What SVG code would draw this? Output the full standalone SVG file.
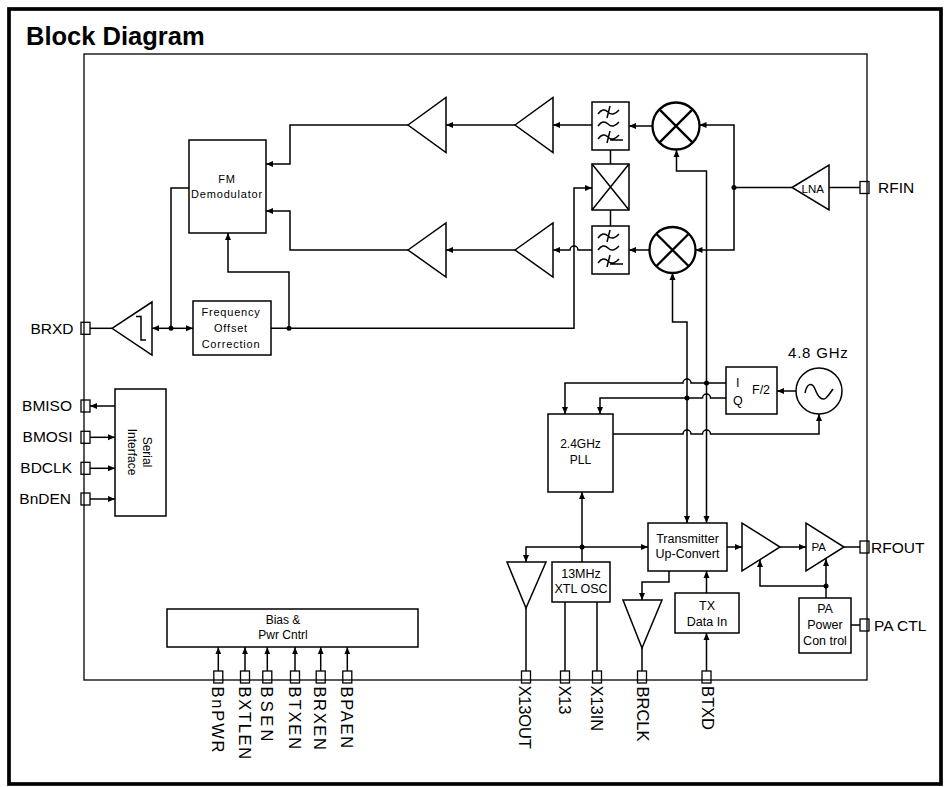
<svg xmlns="http://www.w3.org/2000/svg" width="948" height="787" viewBox="0 0 948 787">
<defs>
<style>
.ln{fill:none;stroke:#000;stroke-width:1.5}
.bx{fill:#fff;stroke:#000;stroke-width:1.5}
.tk{fill:#fff;stroke:#000;stroke-width:2.3}
.pin{fill:none;stroke:#000;stroke-width:1.3}
.dot{fill:#000}
text{font-family:"Liberation Sans",Arial,Helvetica,sans-serif;fill:#000}
.s11{font-size:11px;letter-spacing:0.8px}
.s12{font-size:12.5px}
.lab{font-size:15.5px}
.vl{font-size:16.5px}
</style>
<marker id="ar" markerWidth="7" markerHeight="7" refX="7" refY="3.5" orient="auto-start-reverse" markerUnits="userSpaceOnUse"><path d="M0,0.5 L7,3.5 L0,6.5 z" fill="#000"/></marker>
<g id="filt">
<rect x="0" y="0" width="37" height="48" class="bx"/>
<path class="ln" d="M6,12 Q11,5 16,10 T27,8 M15,16 L18,4"/>
<path class="ln" d="M6,24 Q11,17 16,22 T27,20"/>
<path class="ln" d="M6,37 Q11,30 16,35 T27,33 M15,41 L18,29 M18,38 L31,38"/>
</g>
</defs>
<rect x="0" y="0" width="948" height="787" fill="#fff"/>
<rect x="9" y="9" width="932" height="775" fill="none" stroke="#000" stroke-width="3.7"/>
<text x="26" y="45" style="font-size:25.5px;font-weight:bold">Block Diagram</text>
<rect x="84" y="54" width="783" height="626" fill="none" stroke="#000" stroke-width="1.3"/>

<g id="connectors">
<!-- upper IF chain -->
<path class="ln" d="M592,125 L553,125" marker-end="url(#ar)"/>
<path class="ln" d="M515,125 L446,125" marker-end="url(#ar)"/>
<path class="ln" d="M408,125 L290,125 L290,164 L266,164" marker-end="url(#ar)"/>
<!-- lower IF chain -->
<path class="ln" d="M592,250 L578,250 A4,4 0 0 0 570,250 L553,250" marker-end="url(#ar)"/>
<path class="ln" d="M515,250 L446,250" marker-end="url(#ar)"/>
<path class="ln" d="M408,250 L290,250 L290,211 L266,211" marker-end="url(#ar)"/>
<!-- mixers to filters -->
<path class="ln" d="M652.5,126 L629,126" marker-end="url(#ar)"/>
<path class="ln" d="M649.5,250 L629,250" marker-end="url(#ar)"/>
<!-- filters to X box -->
<path class="ln" d="M610.5,150 L610.5,164 M610.5,210 L610.5,227"/>
<!-- LNA to mixers -->
<path class="ln" d="M860,187.5 L829,187.5"/>
<path class="ln" d="M792,187.5 L734,187.5"/>
<path class="ln" d="M734,187.5 L734,125 L699.5,125" marker-end="url(#ar)"/>
<path class="ln" d="M734,187.5 L734,250 L695.5,250" marker-end="url(#ar)"/>
<circle class="dot" cx="734" cy="187.5" r="2.5"/>
<!-- LO lines -->
<path class="ln" d="M676.5,150 L676.5,171 L706.5,171 L706.5,523" marker-start="url(#ar)" marker-end="url(#ar)"/>
<path class="ln" d="M672.5,273 L672.5,322 L687,322 L687,523" marker-start="url(#ar)" marker-end="url(#ar)"/>
<!-- I / Q from F/2 -->
<path class="ln" d="M726,383 L691,383 A4,4 0 0 0 683,383 L565,383 L565,414" marker-end="url(#ar)"/>
<path class="ln" d="M726,398 L710.5,398 A4,4 0 0 0 702.5,398 L600,398 L600,414" marker-end="url(#ar)"/>
<circle class="dot" cx="706.5" cy="383" r="2.5"/>
<circle class="dot" cx="687" cy="398" r="2.5"/>
<!-- PLL to VCO -->
<path class="ln" d="M613,434 L683,434 A4,4 0 0 1 691,434 L702.5,434 A4,4 0 0 1 710.5,434 L819,434 L819,414" marker-end="url(#ar)"/>
<path class="ln" d="M796,391 L777,391" marker-end="url(#ar)"/>
<!-- FM demod / BRXD -->
<path class="ln" d="M189,188 L171,188 L171,328.3"/>
<path class="ln" d="M171,328.3 L152,328.3" marker-end="url(#ar)"/>
<path class="ln" d="M171,328.3 L193,328.3" marker-end="url(#ar)"/>
<path class="ln" d="M112,328.3 L90,328.3"/>
<circle class="dot" cx="171" cy="328.3" r="2.5"/>
<path class="ln" d="M271,328.3 L574,328.3 L574,188 L592,188" marker-end="url(#ar)"/>
<path class="ln" d="M289,328.3 L289,272 L228,272 L228,233" marker-end="url(#ar)"/>
<circle class="dot" cx="289" cy="328.3" r="2.5"/>
<!-- serial -->
<path class="ln" d="M115,406 L90,406" marker-end="url(#ar)"/>
<path class="ln" d="M90,437.3 L115,437.3" marker-end="url(#ar)"/>
<path class="ln" d="M90,468.3 L115,468.3" marker-end="url(#ar)"/>
<path class="ln" d="M90,499 L115,499" marker-end="url(#ar)"/>
<!-- XTL / PLL -->
<path class="ln" d="M582,562 L582,492" marker-end="url(#ar)"/>
<path class="ln" d="M582,547 L526,547 L526,562" marker-end="url(#ar)"/>
<path class="ln" d="M582,547 L648,547" marker-end="url(#ar)"/>
<circle class="dot" cx="582" cy="547" r="2.5"/>
<path class="ln" d="M526,608 L526,671"/>
<path class="ln" d="M565,602 L565,671 M597,602 L597,671"/>
<!-- transmitter -->
<path class="ln" d="M669,571 L669,582 L642,582 L642,600" marker-end="url(#ar)"/>
<path class="ln" d="M642,648 L642,671"/>
<path class="ln" d="M706.5,593 L706.5,571" marker-end="url(#ar)"/>
<path class="ln" d="M706.5,671 L706.5,633" marker-end="url(#ar)"/>
<path class="ln" d="M727,547 L742,547" marker-end="url(#ar)"/>
<path class="ln" d="M780,547 L806,547" marker-end="url(#ar)"/>
<path class="ln" d="M844,547 L860,547"/>
<path class="ln" d="M826,598 L826,559" marker-end="url(#ar)"/>
<path class="ln" d="M826,586 L760,586 L760,560" marker-end="url(#ar)"/>
<circle class="dot" cx="826" cy="586" r="2.5"/>
<path class="ln" d="M851,625 L860,625"/>
<!-- bias pins -->
<path class="ln" d="M218.3,671 L218.3,647.3" marker-end="url(#ar)"/>
<path class="ln" d="M245,671 L245,647.3" marker-end="url(#ar)"/>
<path class="ln" d="M267.3,671 L267.3,647.3" marker-end="url(#ar)"/>
<path class="ln" d="M295,671 L295,647.3" marker-end="url(#ar)"/>
<path class="ln" d="M320.7,671 L320.7,647.3" marker-end="url(#ar)"/>
<path class="ln" d="M347.3,671 L347.3,647.3" marker-end="url(#ar)"/>
</g>

<g id="fm-demod">
<rect class="bx" x="189" y="140" width="77" height="93"/>
<text class="s11" x="227" y="183" text-anchor="middle">FM</text>
<text class="s11" x="227" y="198" text-anchor="middle">Demodulator</text>
</g>
<g id="upper-amp1"><polygon class="ln" points="408,125 446,97.5 446,152.5"/></g>
<g id="upper-amp2"><polygon class="ln" points="515,125 553,97.5 553,152.5"/></g>
<g id="lower-amp1"><polygon class="ln" points="408,250 446,223 446,277"/></g>
<g id="lower-amp2"><polygon class="ln" points="515,250 553,223 553,277"/></g>
<g id="upper-filter"><use href="#filt" x="592" y="102"/></g>
<g id="lower-filter"><use href="#filt" x="592" y="226"/></g>
<g id="quad-box">
<rect class="bx" x="592" y="164" width="37" height="46"/>
<path class="ln" d="M592,164 L629,210 M629,164 L592,210"/>
</g>
<g id="upper-mixer">
<circle class="tk" cx="676" cy="126" r="23.5"/>
<path class="tk" d="M659.4,109.4 L692.6,142.6 M692.6,109.4 L659.4,142.6"/>
</g>
<g id="lower-mixer">
<circle class="tk" cx="672.5" cy="250" r="23"/>
<path class="tk" d="M656.2,233.7 L688.8,266.3 M688.8,233.7 L656.2,266.3"/>
</g>
<g id="lna">
<polygon class="ln" points="792,187.5 829,165 829,210"/>
<text x="801.5" y="192.5" style="font-size:11.5px">LNA</text>
</g>
<g id="rx-buffer">
<polygon class="ln" points="112,328.3 152,302 152,355"/>
<path class="ln" d="M136,316.5 L141,316.5 L141,340 L146,340"/>
</g>
<g id="freq-offset">
<rect class="bx" x="193" y="301" width="78" height="54"/>
<text class="s11" x="231" y="315.7" text-anchor="middle">Frequency</text>
<text class="s11" x="231" y="331.7" text-anchor="middle">Offset</text>
<text class="s11" x="231" y="347.7" text-anchor="middle">Correction</text>
</g>
<g id="serial">
<rect class="bx" x="115" y="389" width="51" height="127"/>
<text transform="translate(140,452) rotate(90)" style="font-size:12px" text-anchor="middle"><tspan x="0" y="-2.5">Serial</tspan><tspan x="0" y="11.7">Interface</tspan></text>
</g>
<g id="pll">
<rect class="bx" x="548" y="414" width="65" height="78"/>
<text x="580.5" y="448" style="font-size:12px" text-anchor="middle">2.4GHz</text>
<text x="580.5" y="464" style="font-size:12px" text-anchor="middle">PLL</text>
</g>
<g id="f2">
<rect class="bx" x="726" y="367" width="51" height="47"/>
<text class="s12" x="736" y="387">I</text>
<text class="s12" x="733" y="405">Q</text>
<text class="s12" x="752" y="394">F/2</text>
</g>
<g id="vco">
<circle class="ln" cx="819" cy="391" r="23"/>
<path class="ln" d="M805,393 C807,383 812,382 815,389 C818,397 822,401 826,398 C829,395 831,392 833,389"/>
<text x="788" y="358" style="font-size:15px;letter-spacing:0.8px">4.8 GHz</text>
</g>
<g id="xtl-osc">
<rect class="bx" x="552" y="562" width="58" height="40"/>
<text class="s12" x="581" y="578" text-anchor="middle">13MHz</text>
<text class="s12" x="581" y="593" text-anchor="middle">XTL OSC</text>
</g>
<g id="x13out-buf"><polygon class="ln" points="507,562 546,562 526,608"/></g>
<g id="brclk-buf"><polygon class="ln" points="623,600 662,600 642,648"/></g>
<g id="transmitter">
<rect class="bx" x="648" y="523" width="79" height="48"/>
<text class="s12" x="687.5" y="542.7" text-anchor="middle">Transmitter</text>
<text class="s12" x="687.5" y="558.3" text-anchor="middle">Up-Convert</text>
</g>
<g id="tx-data">
<rect class="bx" x="675" y="593" width="64" height="40"/>
<text class="s12" x="707" y="610" text-anchor="middle">TX</text>
<text class="s12" x="707" y="625.7" text-anchor="middle">Data In</text>
</g>
<g id="driver"><polygon class="ln" points="742,523 742,571 780,547"/></g>
<g id="pa">
<polygon class="ln" points="806,523 806,571 844,547"/>
<text x="811.5" y="551" style="font-size:11.5px">PA</text>
</g>
<g id="pa-power">
<rect class="bx" x="799" y="598" width="52" height="55"/>
<text class="s12" x="825" y="612.7" text-anchor="middle">PA</text>
<text class="s12" x="825" y="629.3" text-anchor="middle">Power</text>
<text class="s12" x="825" y="645" text-anchor="middle">Con trol</text>
</g>
<g id="bias">
<rect class="bx" x="167" y="609" width="251" height="38"/>
<text x="283" y="624" style="font-size:12px" text-anchor="middle">Bias &amp;</text>
<text x="283" y="639.3" style="font-size:12px" text-anchor="middle">Pwr Cntrl</text>
</g>

<g id="pins">
<rect class="pin" x="81" y="322.3" width="9" height="12"/>
<rect class="pin" x="81" y="400" width="9" height="12"/>
<rect class="pin" x="81" y="431.3" width="9" height="12"/>
<rect class="pin" x="81" y="462.3" width="9" height="12"/>
<rect class="pin" x="81" y="493" width="9" height="12"/>
<rect class="pin" x="860" y="181.5" width="9" height="12"/>
<rect class="pin" x="860" y="541" width="9" height="12"/>
<rect class="pin" x="860" y="619" width="9" height="12"/>
<rect class="pin" x="213.8" y="671" width="9" height="12"/>
<rect class="pin" x="240.5" y="671" width="9" height="12"/>
<rect class="pin" x="262.8" y="671" width="9" height="12"/>
<rect class="pin" x="290.5" y="671" width="9" height="12"/>
<rect class="pin" x="316.2" y="671" width="9" height="12"/>
<rect class="pin" x="342.8" y="671" width="9" height="12"/>
<rect class="pin" x="521.5" y="671" width="9" height="12"/>
<rect class="pin" x="560.5" y="671" width="9" height="12"/>
<rect class="pin" x="592.5" y="671" width="9" height="12"/>
<rect class="pin" x="637.5" y="671" width="9" height="12"/>
<rect class="pin" x="702" y="671" width="9" height="12"/>
<text class="lab" x="73.5" y="334" text-anchor="end">BRXD</text>
<text class="lab" x="72" y="411" text-anchor="end">BMISO</text>
<text class="lab" x="72.5" y="442" text-anchor="end">BMOSI</text>
<text class="lab" x="72" y="473" text-anchor="end">BDCLK</text>
<text class="lab" x="71" y="504" text-anchor="end">BnDEN</text>
<text class="lab" x="878" y="193">RFIN</text>
<text class="lab" x="871" y="552.5">RFOUT</text>
<text class="lab" x="874" y="630.5">PA CTL</text>
<text class="vl" transform="translate(212,686.5) rotate(90)" textLength="66" lengthAdjust="spacing">BnPWR</text>
<text class="vl" transform="translate(238.7,686.5) rotate(90)" textLength="72.6" lengthAdjust="spacing">BXTLEN</text>
<text class="vl" transform="translate(261,686.5) rotate(90)" textLength="55" lengthAdjust="spacing">BSEN</text>
<text class="vl" transform="translate(288.7,686.5) rotate(90)" textLength="62.7" lengthAdjust="spacing">BTXEN</text>
<text class="vl" transform="translate(314.4,686.5) rotate(90)" textLength="63.3" lengthAdjust="spacing">BRXEN</text>
<text class="vl" transform="translate(341,686.5) rotate(90)" textLength="61.7" lengthAdjust="spacing">BPAEN</text>
<text class="vl" transform="translate(519.3,685.5) rotate(90)" textLength="63.3" lengthAdjust="spacing">X13OUT</text>
<text class="vl" transform="translate(558.5,685.5) rotate(90)" textLength="29" lengthAdjust="spacing">X13</text>
<text class="vl" transform="translate(591,685.5) rotate(90)" textLength="45.7" lengthAdjust="spacing">X13IN</text>
<text class="vl" transform="translate(636.5,686.5) rotate(90)" textLength="55" lengthAdjust="spacing">BRCLK</text>
<text class="vl" transform="translate(701.5,686) rotate(90)" textLength="44" lengthAdjust="spacing">BTXD</text>
</g>
</svg>
